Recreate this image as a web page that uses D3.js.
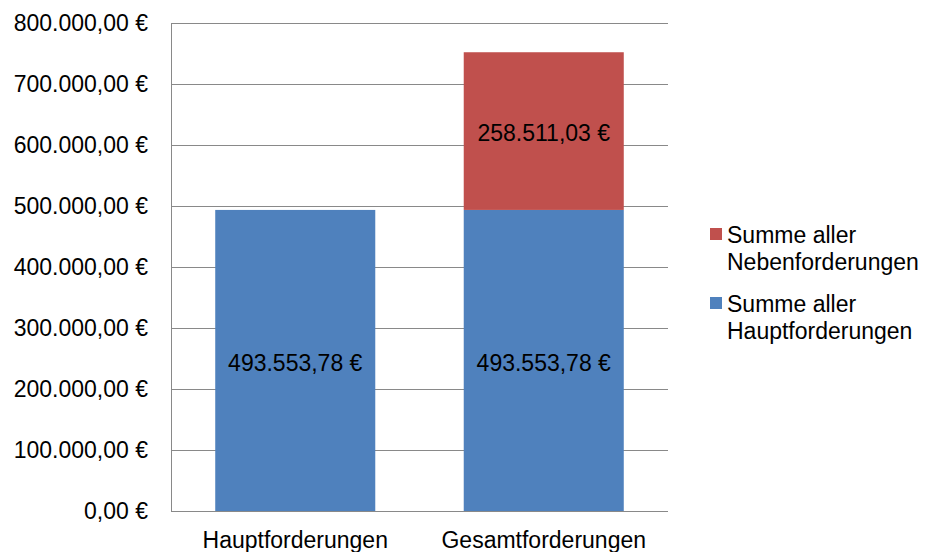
<!DOCTYPE html>
<html lang="de">
<head>
<meta charset="utf-8">
<style>
body { margin: 0; background: #fff; }
svg text { font-family: "Liberation Sans", Arial, sans-serif; font-size: 23px; fill: #000; }
.grid line { stroke: #898989; stroke-width: 1.3; shape-rendering: crispEdges; }
</style>
</head>
<body>
<script src="https://d3js.org/d3.v7.min.js"></script>
<svg id="chart" width="930" height="552"></svg>
<script>
var categories = ["Hauptforderungen", "Gesamtforderungen"];
var haupt = [493553.78, 493553.78];
var neben = [0, 258511.03];
var seriesNames = ["Summe aller Hauptforderungen", "Summe aller Nebenforderungen"];
var yTicks = [0, 100000, 200000, 300000, 400000, 500000, 600000, 700000, 800000];

var colors = { haupt: "#4f81bd", neben: "#c0504d" };

var svg = d3.select("#chart"),
    plotLeft = 171, plotRight = 668, plotTop = 23, plotBottom = 511;

var x = d3.scaleBand().domain(categories).range([plotLeft, plotRight])
    .paddingInner(0.356).paddingOuter(0.178);
var y = d3.scaleLinear().domain([0, 800000]).range([plotBottom, plotTop]);

var fmt = function(v) {
  var parts = v.toFixed(2).split(".");
  return parts[0].replace(/\B(?=(\d{3})+(?!\d))/g, ".") + "," + parts[1] + " \u20ac";
};

// gridlines
svg.append("g").attr("class", "grid")
  .selectAll("line").data(yTicks).enter().append("line")
    .attr("x1", plotLeft).attr("x2", plotRight)
    .attr("y1", function(d) { return Math.round(y(d)) + 0.5; })
    .attr("y2", function(d) { return Math.round(y(d)) + 0.5; });

// y axis line
svg.append("g").attr("class", "grid").append("line")
  .attr("x1", plotLeft + 0.5).attr("x2", plotLeft + 0.5)
  .attr("y1", plotTop).attr("y2", plotBottom + 1);

// y tick labels
svg.append("g").selectAll("text").data(yTicks).enter().append("text")
  .attr("x", 148).attr("y", function(d) { return y(d); })
  .attr("dy", "0.35em").attr("text-anchor", "end")
  .text(fmt);

var data = categories.map(function(c, i) {
  return { cat: c, haupt: haupt[i], neben: neben[i] };
});
var stack = d3.stack().keys(["haupt", "neben"])(data);

var layers = svg.append("g").selectAll("g").data(stack).enter().append("g")
  .attr("fill", function(d) { return colors[d.key]; });

layers.selectAll("rect").data(function(d) { return d.filter(function(p) { return p[1] > p[0]; }); })
  .enter().append("rect")
    .attr("x", function(d) { return x(d.data.cat); })
    .attr("width", x.bandwidth())
    .attr("y", function(d) { return y(d[1]); })
    .attr("height", function(d) { return y(d[0]) - y(d[1]); });

// value labels
stack.forEach(function(layer) {
  layer.forEach(function(p) {
    if (p[1] <= p[0]) return;
    svg.append("text")
      .attr("x", x(p.data.cat) + x.bandwidth() / 2)
      .attr("y", (y(p[0]) + y(p[1])) / 2 + 2)
      .attr("dy", "0.35em").attr("text-anchor", "middle")
      .text(fmt(p[1] - p[0]));
  });
});

// category labels
svg.append("g").selectAll("text").data(categories).enter().append("text")
  .attr("x", function(d) { return x(d) + x.bandwidth() / 2; })
  .attr("y", 548).attr("text-anchor", "middle")
  .text(function(d) { return d; });

// legend
var legendItems = [
  { key: "neben", lines: ["Summe aller", "Nebenforderungen"], y: 228 },
  { key: "haupt", lines: ["Summe aller", "Hauptforderungen"], y: 297 }
];
var lg = svg.append("g").selectAll("g").data(legendItems).enter().append("g");
lg.append("rect").attr("x", 710).attr("y", function(d) { return d.y; })
  .attr("width", 12).attr("height", 12)
  .attr("fill", function(d) { return colors[d.key]; });
lg.append("text").attr("x", 727).attr("y", function(d) { return d.y + 15; })
  .selectAll("tspan").data(function(d) { return d.lines; }).enter().append("tspan")
    .attr("x", 727).attr("dy", function(d, i) { return i ? 27 : 0; })
    .text(function(d) { return d; });
</script>
</body>
</html>
